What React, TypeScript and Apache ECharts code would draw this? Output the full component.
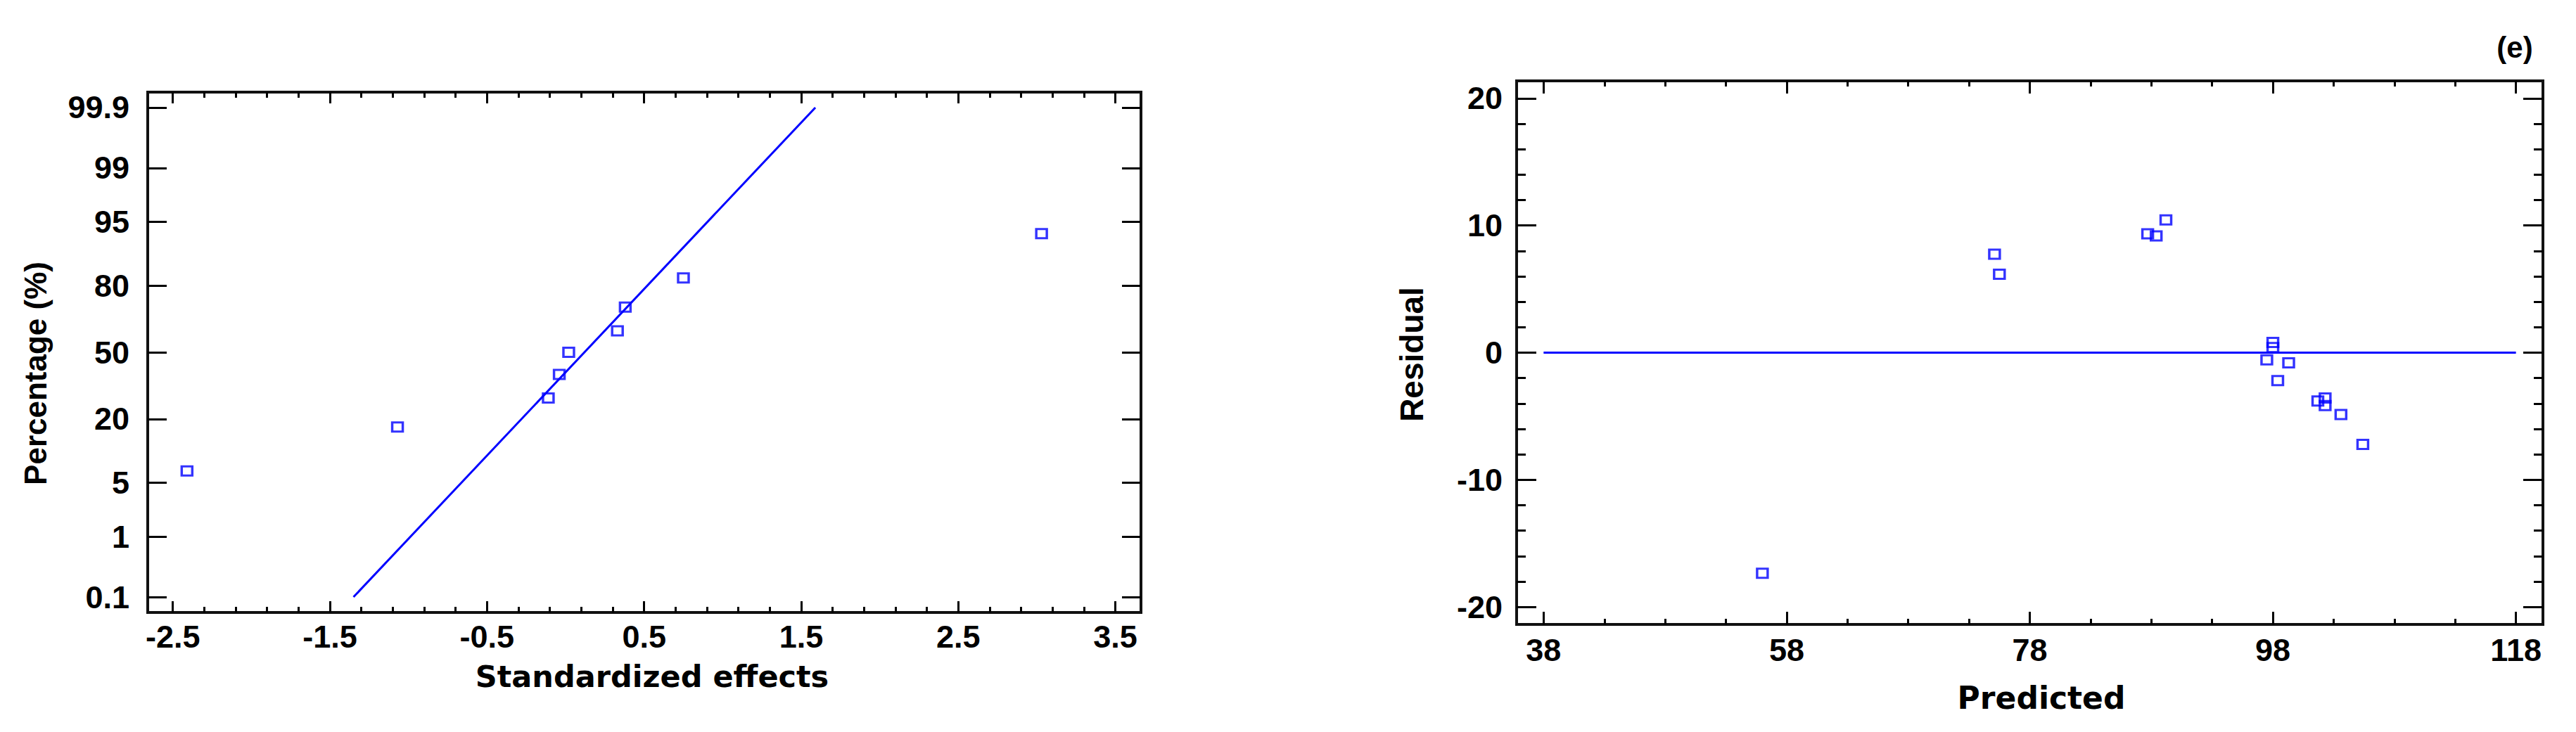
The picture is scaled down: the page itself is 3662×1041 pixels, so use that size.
import React, { useEffect, useRef } from 'react';
import * as echarts from 'echarts';

// ---------- Left panel: normal probability plot of standardized effects ----------
const effectX = [-2.41, -1.07, -0.11, -0.04, 0.02, 0.33, 0.38, 0.75, 3.03];
const effectPct = [6.7, 17.3, 28.2, 39.0, 50.0, 60.7, 71.6, 82.6, 93.3];
const fitLineX = [-1.35, 1.59];
const fitLinePct = [0.1, 99.9];
const pctTicks = [0.1, 1, 5, 20, 50, 80, 95, 99, 99.9];
const effectMajorTicks = [-2.5, -1.5, -0.5, 0.5, 1.5, 2.5, 3.5];
const effectMinorTicks = [
  -2.3, -2.1, -1.9, -1.7, -1.3, -1.1, -0.9, -0.7, -0.3, -0.1, 0.1, 0.3,
  0.7, 0.9, 1.1, 1.3, 1.7, 1.9, 2.1, 2.3, 2.7, 2.9, 3.1, 3.3,
];

// ---------- Right panel: residual vs predicted ----------
const predicted = [56.0, 75.1, 75.5, 87.7, 88.4, 89.2, 98.0, 98.0, 97.5, 99.3, 98.4, 101.7, 102.3, 102.3, 103.6, 105.4];
const residual = [-17.35, 7.74, 6.16, 9.34, 9.18, 10.44, 0.8, 0.4, -0.57, -0.8, -2.2, -3.8, -3.57, -4.16, -4.86, -7.22];
const zeroLineX = [38, 118];
const zeroLineY = [0, 0];
const predMajorTicks = [38, 58, 78, 98, 118];
const predMinorTicks = [43, 48, 53, 63, 68, 73, 83, 88, 93, 103, 108, 113];
const resMajorTicks = [-20, -10, 0, 10, 20];
const resMinorTicks = [-18, -16, -14, -12, -8, -6, -4, -2, 2, 4, 6, 8, 12, 14, 16, 18];

// Inverse standard normal CDF (probability-paper axis scale), p in percent
function probit(pPercent: number): number {
  const p = pPercent / 100;
  const a = [-3.969683028665376e1, 2.209460984245205e2, -2.759285104469687e2, 1.38357751867269e2, -3.066479806614716e1, 2.506628277459239];
  const b = [-5.447609879822406e1, 1.615858368580409e2, -1.556989798598866e2, 6.680131188771972e1, -1.328068155288572e1];
  const c = [-7.784894002430293e-3, -3.223964580411365e-1, -2.400758277161838, -2.549732539343734, 4.374664141464968, 2.938163982698783];
  const d = [7.784695709041462e-3, 3.224671290700398e-1, 2.445134137142996, 3.754408661907416];
  const plow = 0.02425;
  const phigh = 1 - plow;
  if (p < plow) {
    const q = Math.sqrt(-2 * Math.log(p));
    return (((((c[0] * q + c[1]) * q + c[2]) * q + c[3]) * q + c[4]) * q + c[5]) / ((((d[0] * q + d[1]) * q + d[2]) * q + d[3]) * q + 1);
  }
  if (p <= phigh) {
    const q = p - 0.5;
    const r = q * q;
    return ((((((a[0] * r + a[1]) * r + a[2]) * r + a[3]) * r + a[4]) * r + a[5]) * q) / (((((b[0] * r + b[1]) * r + b[2]) * r + b[3]) * r + b[4]) * r + 1);
  }
  const q = Math.sqrt(-2 * Math.log(1 - p));
  return -(((((c[0] * q + c[1]) * q + c[2]) * q + c[3]) * q + c[4]) * q + c[5]) / ((((d[0] * q + d[1]) * q + d[2]) * q + d[3]) * q + 1);
}

const BLUE = '#0000ff';
const tickFont = {
  fontFamily: "'Liberation Sans', Arial, sans-serif",
  fontWeight: 'bold' as const,
  fontSize: 45,
  color: '#000',
};

function axis(
  grid: number,
  position: string,
  min: number,
  max: number,
  ticks: number[],
  len: number,
  label: any,
) {
  return {
    type: 'value',
    gridIndex: grid,
    position,
    min,
    max,
    axisLine: { show: false, onZero: false },
    splitLine: { show: false },
    axisTick: {
      show: true,
      inside: true,
      length: len,
      customValues: ticks,
      lineStyle: { color: '#000', width: 3 },
    },
    axisLabel: label ? { show: true, customValues: ticks, ...tickFont, ...label } : { show: false },
  };
}

const pctTickZ = pctTicks.map((p) => probit(p));
const pctLabel = (v: number) => {
  let best = pctTicks[0];
  let bd = Infinity;
  pctTicks.forEach((p) => {
    const dd = Math.abs(probit(p) - v);
    if (dd < bd) {
      bd = dd;
      best = p;
    }
  });
  return String(best);
};

const X1MIN = -2.66, X1MAX = 3.663, Z_LIM = 3.285;
const X2MIN = 35.78, X2MAX = 120.22, Y2LIM = 21.37;

const titleFontH = "'DejaVu Sans', 'Liberation Sans', sans-serif";
const titleFontV = "'Liberation Sans', Arial, sans-serif";

const markerStyle = { color: 'rgba(0,0,0,0)', borderColor: BLUE, borderWidth: 3.2 };

const option: any = {
  animation: false,
  backgroundColor: '#ffffff',
  grid: [
    { left: 210, top: 131, width: 1412, height: 740, show: true, borderColor: '#111', borderWidth: 4, containLabel: false },
    { left: 2156, top: 115, width: 1459, height: 773, show: true, borderColor: '#111', borderWidth: 4, containLabel: false },
  ],
  xAxis: [
    axis(0, 'bottom', X1MIN, X1MAX, effectMajorTicks, 16, { margin: 12 }),
    axis(0, 'top', X1MIN, X1MAX, effectMajorTicks, 16, null),
    axis(0, 'bottom', X1MIN, X1MAX, effectMinorTicks, 8, null),
    axis(0, 'top', X1MIN, X1MAX, effectMinorTicks, 8, null),
    axis(1, 'bottom', X2MIN, X2MAX, predMajorTicks, 18, { margin: 14 }),
    axis(1, 'top', X2MIN, X2MAX, predMajorTicks, 18, null),
    axis(1, 'bottom', X2MIN, X2MAX, predMinorTicks, 8, null),
    axis(1, 'top', X2MIN, X2MAX, predMinorTicks, 8, null),
  ],
  yAxis: [
    {
      ...axis(0, 'left', -Z_LIM, Z_LIM, pctTickZ, 27, { margin: 26 }),
      axisLabel: { show: true, customValues: pctTickZ, ...tickFont, margin: 26, formatter: pctLabel },
    },
    axis(0, 'right', -Z_LIM, Z_LIM, pctTickZ, 27, null),
    axis(1, 'left', -Y2LIM, Y2LIM, resMajorTicks, 28, { margin: 20 }),
    axis(1, 'right', -Y2LIM, Y2LIM, resMajorTicks, 28, null),
    axis(1, 'left', -Y2LIM, Y2LIM, resMinorTicks, 13, null),
    axis(1, 'right', -Y2LIM, Y2LIM, resMinorTicks, 13, null),
  ],
  series: [
    {
      type: 'line',
      xAxisIndex: 0,
      yAxisIndex: 0,
      data: fitLineX.map((x, i) => [x, probit(fitLinePct[i])]),
      symbol: 'none',
      lineStyle: { color: BLUE, width: 3 },
      z: 2,
    },
    {
      type: 'scatter',
      xAxisIndex: 0,
      yAxisIndex: 0,
      data: effectX.map((x, i) => [x, probit(effectPct[i])]),
      symbol: 'rect',
      symbolSize: [15, 13],
      itemStyle: markerStyle,
      z: 3,
    },
    {
      type: 'line',
      xAxisIndex: 4,
      yAxisIndex: 2,
      data: zeroLineX.map((x, i) => [x, zeroLineY[i]]),
      symbol: 'none',
      lineStyle: { color: BLUE, width: 3 },
      z: 2,
    },
    {
      type: 'scatter',
      xAxisIndex: 4,
      yAxisIndex: 2,
      data: predicted.map((x, i) => [x, residual[i]]),
      symbol: 'rect',
      symbolSize: [15, 13],
      itemStyle: markerStyle,
      z: 3,
    },
  ],
  graphic: [
    {
      type: 'text', x: 927, y: 962,
      style: { text: 'Standardized effects', fill: '#000', fontSize: 43, fontWeight: 'bold', fontFamily: titleFontH, align: 'center', verticalAlign: 'middle', textAlign: 'center', textVerticalAlign: 'middle' },
    },
    {
      type: 'text', x: 2902, y: 992,
      style: { text: 'Predicted', fill: '#000', fontSize: 44, fontWeight: 'bold', fontFamily: titleFontH, align: 'center', verticalAlign: 'middle', textAlign: 'center', textVerticalAlign: 'middle' },
    },
    {
      type: 'text', x: 50, y: 531, rotation: Math.PI / 2,
      style: { text: 'Percentage (%)', fill: '#000', fontSize: 44, fontWeight: 'bold', fontFamily: titleFontV, align: 'center', verticalAlign: 'middle', textAlign: 'center', textVerticalAlign: 'middle' },
    },
    {
      type: 'text', x: 2007, y: 504, rotation: Math.PI / 2,
      style: { text: 'Residual', fill: '#000', fontSize: 46, fontWeight: 'bold', fontFamily: titleFontV, align: 'center', verticalAlign: 'middle', textAlign: 'center', textVerticalAlign: 'middle' },
    },
    {
      type: 'text', x: 3575, y: 67,
      style: { text: '(e)', fill: '#000', fontSize: 42, fontWeight: 'bold', fontFamily: titleFontV, align: 'center', verticalAlign: 'middle', textAlign: 'center', textVerticalAlign: 'middle' },
    },
  ],
};

export default function App() {
  const ref = useRef<HTMLDivElement>(null);
  useEffect(() => {
    const chart = echarts.init(ref.current as HTMLDivElement, null, { renderer: 'svg' });
    chart.setOption(option);
    return () => chart.dispose();
  }, []);
  return (
    <div
      ref={ref}
      style={{ position: 'absolute', left: 0, top: 0, width: 3662, height: 1041, background: '#fff' }}
    />
  );
}
